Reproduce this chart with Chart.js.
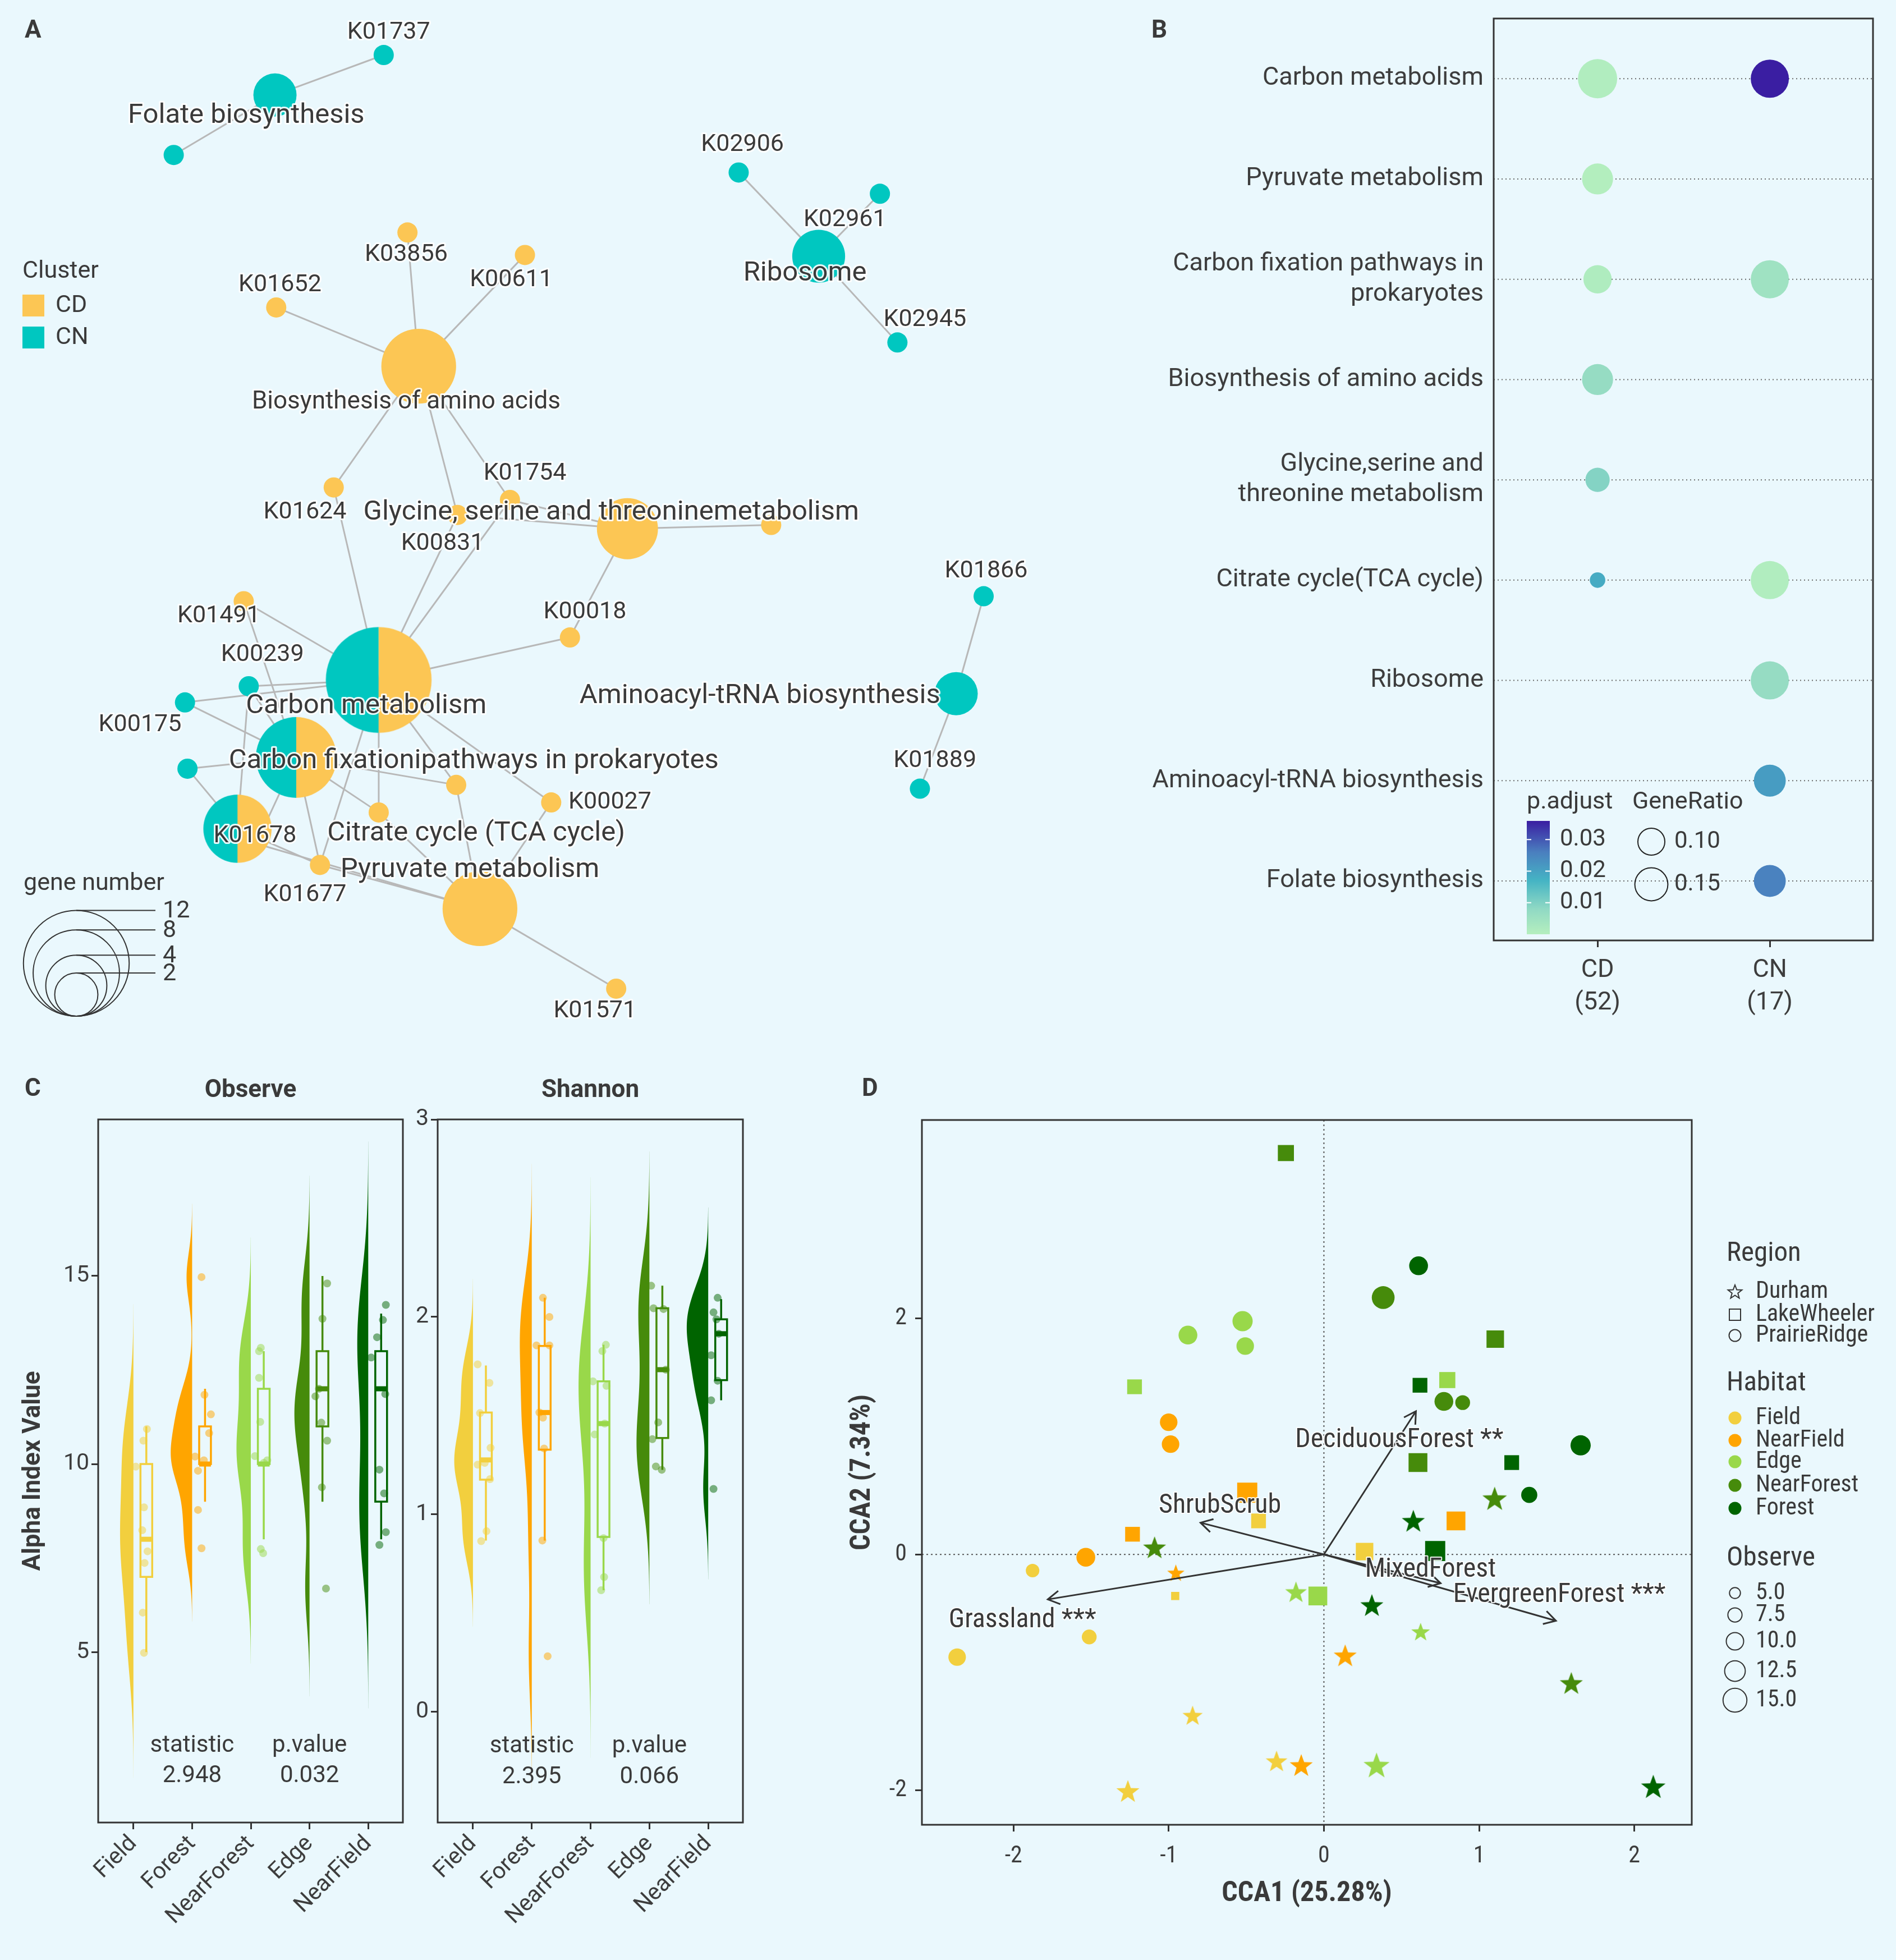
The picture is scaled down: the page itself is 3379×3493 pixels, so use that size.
<!DOCTYPE html>
<html><head><meta charset="utf-8"><title>Figure</title>
<script src="https://cdn.jsdelivr.net/npm/chart.js@4.4.1/dist/chart.umd.min.js"></script>
<style>
html,body{margin:0;padding:0;background:#eaf8fd;}
#page{position:relative;width:3379px;height:3493px;overflow:hidden;background:#eaf8fd;}
#page canvas{position:absolute;display:block;}
</style></head><body><div id="page"></div>
<script>
// ================= DATA =================
// ---- Panel A: network (layout coordinates) ----
const A_nodeId = ['K01737','u1','K02906','K02961','K02945','K03856','K00611','K01652','K01624','K01754','K00831','u2','K00018','K01491','K00239','K00175','u3','K01678','u4','K00027','u5','K01677','K01571','K01866','K01889',
  'Folate biosynthesis','Ribosome','Biosynthesis of amino acids','Glycine, serine and threoninemetabolism','Carbon metabolism','Carbon fixationipathways in prokaryotes','Citrate cycle (TCA cycle)','Pyruvate metabolism','Aminoacyl-tRNA biosynthesis'];
const A_nodeX = [3.07,1.39,5.91,7.04,7.18,3.26,4.20,2.21,2.67,4.08,3.66,6.17,4.56,1.95,1.99,1.48,1.50,2.05,3.65,4.41,3.03,2.56,4.93,7.87,7.36,
  2.20,6.55,3.35,5.02,3.03,2.37,1.90,3.84,7.65];
const A_nodeY = [0.44,1.24,1.38,1.55,2.74,1.86,2.04,2.46,3.90,4.00,4.12,4.20,5.10,4.81,5.49,5.62,6.15,6.75,6.28,6.42,6.50,6.92,7.91,4.77,6.31,
  0.76,2.05,2.93,4.23,5.44,6.06,6.63,7.27,5.55];
const A_nodeCluster = ['CN','CN','CN','CN','CN','CD','CD','CD','CD','CD','CD','CD','CD','CD','CN','CN','CN','CD','CD','CD','CD','CD','CD','CN','CN',
  'CN','CN','CD','CD','CD/CN','CD/CN','CD/CN','CD','CN'];
const A_nodeGenes = [0,0,0,0,0,0,0,0,0,0,0,0,0,0,0,0,0,0,0,0,0,0,0,0,0, 2,3,6,4,12,7,5,6,2];
const A_edgeFrom = ['Folate biosynthesis','Folate biosynthesis','Ribosome','Ribosome','Ribosome',
  'Biosynthesis of amino acids','Biosynthesis of amino acids','Biosynthesis of amino acids','Biosynthesis of amino acids','Biosynthesis of amino acids','Biosynthesis of amino acids',
  'Glycine, serine and threoninemetabolism','Glycine, serine and threoninemetabolism','Glycine, serine and threoninemetabolism','Glycine, serine and threoninemetabolism',
  'Carbon metabolism','Carbon metabolism','Carbon metabolism','Carbon metabolism','Carbon metabolism','Carbon metabolism','Carbon metabolism','Carbon metabolism','Carbon metabolism','Carbon metabolism','Carbon metabolism',
  'Carbon fixationipathways in prokaryotes','Carbon fixationipathways in prokaryotes','Carbon fixationipathways in prokaryotes','Carbon fixationipathways in prokaryotes','Carbon fixationipathways in prokaryotes','Carbon fixationipathways in prokaryotes','Carbon fixationipathways in prokaryotes','Carbon fixationipathways in prokaryotes',
  'Citrate cycle (TCA cycle)','Citrate cycle (TCA cycle)','Citrate cycle (TCA cycle)',
  'Pyruvate metabolism','Pyruvate metabolism','Pyruvate metabolism','Pyruvate metabolism','Pyruvate metabolism','Pyruvate metabolism',
  'Aminoacyl-tRNA biosynthesis','Aminoacyl-tRNA biosynthesis'];
const A_edgeTo = ['K01737','u1','K02906','K02961','K02945',
  'K03856','K00611','K01652','K01624','K00831','K01754',
  'K01754','K00831','u2','K00018',
  'K01624','K00831','K01754','K00018','K01491','K00239','K00175','K00027','u4','u5','K01677',
  'K01491','K00239','K00175','u3','u4','u5','K01677','K01678',
  'u3','K01677','K00239',
  'K01677','u5','u4','K00027','K01571','K01678',
  'K01866','K01889'];
const A_geneLegend = [12,8,4,2];

// ---- Panel B: enrichment dot plot ----
const B_pathways = ['Carbon metabolism','Pyruvate metabolism',['Carbon fixation pathways in','prokaryotes'],'Biosynthesis of amino acids',['Glycine,serine and','threonine metabolism'],'Citrate cycle(TCA cycle)','Ribosome','Aminoacyl-tRNA biosynthesis','Folate biosynthesis'];
const B_clusters = ['CD','CN'];
const B_clusterCounts = ['(52)','(17)'];
const B_geneRatioCD = [0.212,0.132,0.110,0.132,0.081,0.033,null,null,null];
const B_padjCD      = [0.0008,0.0005,0.0012,0.0068,0.0095,0.0185,null,null,null];
const B_geneRatioCN = [0.200,null,0.200,null,null,0.200,0.200,0.140,0.140];
const B_padjCN      = [0.0359,null,0.0048,null,null,0.0008,0.0068,0.0210,0.0255];
const B_padjTicks = [0.01,0.02,0.03];
const B_ratioLegend = [0.10,0.15];

// ---- Panel C: alpha diversity ----
const C_groups = ['Field','Forest','NearForest','Edge','NearField'];
const C_observeVals = [
  [10.93,10.62,9.93,8.85,8.24,7.68,7.37,6.05,4.98],
  [14.97,11.84,11.32,10.82,10.2,10.1,9.82,8.78,7.76],
  [13.09,13.0,12.29,11.12,10.21,10.1,10.03,7.74,7.63],
  [14.8,13.86,12.0,11.8,11.1,10.62,9.38,6.69],
  [14.23,13.83,13.37,12.83,11.86,9.85,9.22,8.19,7.85]];
const C_observeJitter = [
  [0.01,-0.05,-0.18,-0.04,-0.07,0.02,-0.03,-0.06,-0.04],
  [-0.06,-0.01,0.10,0.07,-0.17,-0.02,-0.12,-0.12,-0.06],
  [-0.05,-0.08,-0.08,-0.06,-0.15,0.06,0.0,-0.05,-0.01],
  [0.08,0.0,-0.06,-0.12,-0.02,0.08,-0.01,0.06],
  [0.08,0.03,-0.07,-0.17,0.07,-0.03,0.05,0.08,-0.03]];
const C_observeBox = [[5,7,8,10,11],[9,10,10,11,12],[8,10,10,12,13],[9,11,12,13,15],[8,9,12,13,14]];
const C_shannonVals = [
  [1.76,1.666,1.513,1.337,1.261,1.252,1.179,0.915,0.865],
  [2.097,2.0,1.856,1.856,1.516,1.49,1.334,0.868,0.282],
  [1.859,1.827,1.651,1.674,1.46,1.405,0.88,0.683,0.616],
  [2.158,2.044,2.04,1.733,1.466,1.381,1.243,1.226],
  [2.097,2.023,1.988,1.915,1.806,1.677,1.578,1.129]];
const C_shannonJitter = [
  [-0.14,0.06,-0.10,0.08,-0.02,-0.14,0.07,0.01,-0.08],
  [-0.03,0.08,-0.14,0.08,-0.09,-0.03,-0.01,-0.04,0.05],
  [0.04,-0.02,0.05,-0.18,0.02,-0.15,0.0,0.01,-0.04],
  [-0.19,-0.15,0.02,0.06,-0.07,-0.17,-0.11,-0.01],
  [-0.06,-0.13,-0.08,-0.04,-0.17,-0.06,-0.17,-0.13]];
const C_shannonBox = [[0.868,1.176,1.276,1.516,1.754],[0.868,1.328,1.516,1.853,2.097],[0.616,0.886,1.46,1.674,1.859],[1.226,1.387,1.733,2.044,2.158],[1.578,1.68,1.915,1.988,2.09]];
const C_observeTest = ['2.948','0.032'];
const C_shannonTest = ['2.395','0.066'];
const C_observeTicks = [5,10,15];
const C_shannonTicks = [0,1,2,3];

// ---- Panel D: CCA ----
const D_cca1 = [-0.245,-1.22,1.104,0.619,0.795,0.606,1.21,-0.494,-0.421,-1.233,0.262,0.717,0.851,-0.039,-0.958,
  0.61,0.382,-0.524,-0.876,-0.507,0.773,0.894,-1.0,-0.988,1.654,1.323,-1.534,-1.877,-1.512,-2.363,
  1.1,0.576,-1.091,-0.954,-0.18,0.309,0.623,0.137,1.594,-0.846,-0.305,-0.146,0.339,-1.263,2.122];
const D_cca2 = [3.40,1.42,1.824,1.433,1.477,0.778,0.778,0.523,0.284,0.171,0.024,0.029,0.284,-0.352,-0.352,
  2.445,2.176,1.976,1.858,1.765,1.296,1.286,1.12,0.934,0.924,0.504,-0.024,-0.137,-0.699,-0.870,
  0.474,0.284,0.059,-0.156,-0.318,-0.43,-0.655,-0.856,-1.09,-1.364,-1.751,-1.785,-1.785,-2.005,-1.966];
const D_region = ['LakeWheeler','LakeWheeler','LakeWheeler','LakeWheeler','LakeWheeler','LakeWheeler','LakeWheeler','LakeWheeler','LakeWheeler','LakeWheeler','LakeWheeler','LakeWheeler','LakeWheeler','LakeWheeler','LakeWheeler',
  'PrairieRidge','PrairieRidge','PrairieRidge','PrairieRidge','PrairieRidge','PrairieRidge','PrairieRidge','PrairieRidge','PrairieRidge','PrairieRidge','PrairieRidge','PrairieRidge','PrairieRidge','PrairieRidge','PrairieRidge',
  'Durham','Durham','Durham','Durham','Durham','Durham','Durham','Durham','Durham','Durham','Durham','Durham','Durham','Durham','Durham'];
const D_habitat = ['NearForest','Edge','NearForest','Forest','Edge','NearForest','Forest','NearField','Field','NearField','Field','Forest','NearField','Edge','Field',
  'Forest','NearForest','Edge','Edge','Edge','NearForest','NearForest','NearField','NearField','Forest','Forest','NearField','Field','Field','Field',
  'NearForest','Forest','NearForest','NearField','Edge','Forest','Edge','NearField','NearForest','Field','Field','NearField','Edge','Field','Forest'];
const D_observe = [11.2,10.0,12.5,10.0,11.2,13.7,10.0,14.9,10.0,10.0,12.5,14.9,13.7,13.7,4.0,
  11.1,14.2,12.2,11.1,10.1,11.1,8.0,10.1,10.1,12.2,9.0,11.1,7.0,8.0,10.1,
  11.3,10.4,10.4,7.0,9.6,10.4,7.8,10.4,10.4,8.7,9.6,10.4,12.2,10.4,11.3];
const D_envNames = ['Grassland ***','ShrubScrub','DeciduousForest **','MixedForest','EvergreenForest ***'];
const D_envCCA1 = [-1.779,-0.795,0.593,0.752,1.495];
const D_envCCA2 = [-0.381,0.269,1.213,-0.244,-0.562];
const D_regions = ['Durham','LakeWheeler','PrairieRidge'];
const D_habitats = ['Field','NearField','Edge','NearForest','Forest'];
const D_observeLegend = [5.0,7.5,10.0,12.5,15.0];

// ================= STYLES =================
const BG = '#eaf8fd';
const TXT = '#3d3d3d';
const RFONT = "Roboto, 'Noto Sans', sans-serif";
const DFONT = "'Roboto Condensed', 'Liberation Sans Narrow', Roboto, sans-serif";
Chart.defaults.font.family = RFONT;
Chart.defaults.color = TXT;
const A_COL = {CD:'#fcc654', CN:'#00c7c0'};
const HAB_COL = {Field:'#f2cf3e', NearField:'#ffa500', Edge:'#99d84a', NearForest:'#468b0b', Forest:'#006400'};
const C_COL = ['#f2cf3e','#ffa500','#99d84a','#468b0b','#006400'];
const B_RAMP_V = [0, 0.008, 0.017, 0.026, 0.0359];
const B_RAMP_C = ['#b5efbe','#90d9c4','#45b4c4','#4a7fbf','#3a1ea2'];
// label offsets for network (layout units)
const A_labelOffset = {
 'Folate biosynthesis':[-0.23,0.17],'K01737':[0.04,-0.18],'Ribosome':[-0.11,0.14],'K02906':[0.03,-0.22],'K02961':[-0.28,0.21],'K02945':[0.22,-0.18],
 'Biosynthesis of amino acids':[-0.10,0.29],'K03856':[-0.01,0.18],'K00611':[-0.11,0.20],'K01652':[0.03,-0.18],'K01624':[-0.23,0.20],'K01754':[0.12,-0.21],
 'K00831':[-0.12,0.23],'Glycine, serine and threoninemetabolism':[-0.13,-0.13],'K00018':[0.12,-0.20],'K01491':[-0.20,0.12],'K00239':[0.11,-0.25],
 'K00175':[-0.36,0.18],'Carbon metabolism':[-0.10,0.21],'Carbon fixationipathways in prokaryotes':[1.42,0.03],'Citrate cycle (TCA cycle)':[1.91,0.04],
 'K01678':[-0.01,-0.06],'K00027':[0.47,0.0],'K01677':[-0.12,0.24],'Pyruvate metabolism':[-0.08,-0.31],'K01571':[-0.17,0.18],
 'Aminoacyl-tRNA biosynthesis':[-1.57,0.02],'K01866':[0.02,-0.20],'K01889':[0.12,-0.22]};
const A_labelSize = {'Biosynthesis of amino acids':44};
const D_labelPos = [[-1.942,-0.562],[-0.670,0.411],[0.486,0.968],[0.687,-0.132],[1.517,-0.347]];

// ================= HELPERS =================
function mkCanvas(id,left,top,w,h){
  const c=document.createElement('canvas'); c.id=id; c.width=w; c.height=h;
  c.style.left=left+'px'; c.style.top=top+'px'; c.style.width=w+'px'; c.style.height=h+'px';
  document.getElementById('page').appendChild(c); return c;
}
function baseOpts(extra){
  const o = Object.assign({responsive:false,maintainAspectRatio:false,animation:false,devicePixelRatio:1,events:[],
    plugins:{legend:{display:false},tooltip:{enabled:false}}}, extra);
  o.layout = Object.assign({autoPadding:false}, o.layout||{});
  return o;
}
function zp(s){ s.paddingLeft=0; s.paddingRight=0; s.paddingTop=0; s.paddingBottom=0; }
function setTicks(list){ return s=>{ s.ticks = list.map(v=>({value:v})); }; }
function hex2rgb(h){ h=h.replace('#',''); return [parseInt(h.slice(0,2),16),parseInt(h.slice(2,4),16),parseInt(h.slice(4,6),16)]; }
function rgba(h,a){ const c=hex2rgb(h); return `rgba(${c[0]},${c[1]},${c[2]},${a})`; }
function ramp(v){
  if(v<=B_RAMP_V[0]) return B_RAMP_C[0];
  for(let i=1;i<B_RAMP_V.length;i++){
    if(v<=B_RAMP_V[i]){ const t=(v-B_RAMP_V[i-1])/(B_RAMP_V[i]-B_RAMP_V[i-1]); const a=hex2rgb(B_RAMP_C[i-1]), b=hex2rgb(B_RAMP_C[i]);
      return `rgb(${Math.round(a[0]+t*(b[0]-a[0]))},${Math.round(a[1]+t*(b[1]-a[1]))},${Math.round(a[2]+t*(b[2]-a[2]))})`; }
  }
  return B_RAMP_C[B_RAMP_C.length-1];
}
function letter(ctx,t,x,y){ ctx.save(); ctx.font='bold 44px '+RFONT; ctx.fillStyle='#3a3a3a'; ctx.textAlign='left'; ctx.textBaseline='middle'; ctx.fillText(t,x,y); ctx.restore(); }
function haloText(ctx,t,x,y,w){ ctx.save(); ctx.lineJoin='round'; ctx.strokeStyle='rgba(255,255,255,0.9)'; ctx.lineWidth=w; ctx.strokeText(t,x,y); ctx.restore(); ctx.fillText(t,x,y); }
function starPath(g,cx,cy,R,ratio){
  g.beginPath();
  for(let k=0;k<10;k++){ const a=-Math.PI/2+k*Math.PI/5; const rr=(k%2)?R*ratio:R; const px=cx+rr*Math.cos(a), py=cy+rr*Math.sin(a); if(k===0) g.moveTo(px,py); else g.lineTo(px,py); }
  g.closePath();
}
function starCanvas(R,color){
  const s=Math.ceil(2*R+4); const c=document.createElement('canvas'); c.width=s; c.height=s;
  const g=c.getContext('2d'); g.fillStyle=color; starPath(g,s/2,s/2+R*0.08,R,0.41); g.fill(); return c;
}

// ================= PANEL A =================
const A_UNIT = 222.75, A_W = 1950, A_H = 1880;
const A_KO_R = 18;
const geneRadius = n => 27.2*Math.sqrt(n);
function halfDisc(r){
  const s=Math.ceil(2*r+2); const c=document.createElement('canvas'); c.width=s; c.height=s;
  const g=c.getContext('2d'); const m=s/2;
  g.fillStyle=A_COL.CN; g.beginPath(); g.moveTo(m,m); g.arc(m,m,r,Math.PI/2,Math.PI*1.5); g.closePath(); g.fill();
  g.fillStyle=A_COL.CD; g.beginPath(); g.moveTo(m,m); g.arc(m,m,r,-Math.PI/2,Math.PI/2); g.closePath(); g.fill();
  return c;
}
const A_radius = A_nodeGenes.map(n=> n>0 ? geneRadius(n) : A_KO_R);
const panelAPlugin = {
  id:'panelA',
  beforeDatasetsDraw(chart){
    const {ctx,scales:{x,y}}=chart;
    ctx.save(); ctx.strokeStyle='#b8b8b8'; ctx.lineWidth=3;
    A_edgeFrom.forEach((f,k)=>{
      const i=A_nodeId.indexOf(f), j=A_nodeId.indexOf(A_edgeTo[k]);
      ctx.beginPath(); ctx.moveTo(x.getPixelForValue(A_nodeX[i]),y.getPixelForValue(A_nodeY[i]));
      ctx.lineTo(x.getPixelForValue(A_nodeX[j]),y.getPixelForValue(A_nodeY[j])); ctx.stroke();
    });
    ctx.restore();
  },
  afterDatasetsDraw(chart){
    const {ctx,scales:{x,y}}=chart;
    ctx.save(); ctx.fillStyle='#3a3a3a'; ctx.textAlign='center'; ctx.textBaseline='middle';
    A_nodeId.forEach((id,i)=>{
      if(id[0]==='u') return;
      const off=A_labelOffset[id]||[0,-0.2];
      const size=A_labelSize[id]||(A_nodeGenes[i]>0?49:43);
      ctx.font=size+'px '+RFONT;
      haloText(ctx,id, x.getPixelForValue(A_nodeX[i]+off[0]), y.getPixelForValue(A_nodeY[i]+off[1]),6);
    });
    ctx.restore();
  },
  afterDraw(chart){
    const ctx=chart.ctx; ctx.save();
    letter(ctx,'A',44,56);
    ctx.fillStyle='#3a3a3a'; ctx.font='43px '+RFONT; ctx.textAlign='left'; ctx.textBaseline='middle';
    ctx.fillText('Cluster',40,484);
    ctx.fillStyle=A_COL.CD; ctx.fillRect(40,525,39,39);
    ctx.fillStyle=A_COL.CN; ctx.fillRect(40,582,39,39);
    ctx.fillStyle='#3a3a3a'; ctx.fillText('CD',99,545); ctx.fillText('CN',99,602);
    ctx.fillText('gene number',42,1575);
    const cx=136, bottom=1811;
    ctx.strokeStyle='#333'; ctx.lineWidth=2;
    A_geneLegend.forEach(n=>{
      const r=geneRadius(n);
      ctx.beginPath(); ctx.arc(cx,bottom-r,r,0,Math.PI*2); ctx.stroke();
      ctx.beginPath(); ctx.moveTo(cx,bottom-2*r); ctx.lineTo(277,bottom-2*r); ctx.stroke();
      ctx.fillText(String(n),290,bottom-2*r+2);
    });
    ctx.restore();
  }
};
new Chart(mkCanvas('panelA',0,0,A_W,A_H),{
  type:'bubble',
  data:{datasets:[{
    data:A_nodeId.map((id,i)=>({x:A_nodeX[i],y:A_nodeY[i],r:A_radius[i]})),
    backgroundColor:A_nodeCluster.map(c=> c==='CD/CN' ? '#888' : A_COL[c]),
    pointStyle:A_nodeCluster.map((c,i)=> c==='CD/CN' ? halfDisc(A_radius[i]) : 'circle'),
    borderWidth:0, clip:false
  }]},
  options:baseOpts({layout:{padding:0},
    scales:{x:{type:'linear',display:false,min:0,max:A_W/A_UNIT},y:{type:'linear',display:false,min:0,max:A_H/A_UNIT,reverse:true}}}),
  plugins:[panelAPlugin]
});

// ================= PANEL B =================
const B_sizeK = 76;
const B_r = v => B_sizeK*Math.sqrt(v);
const B_pts=[], B_cols=[];
B_pathways.forEach((p,i)=>{
  if(B_geneRatioCD[i]!=null){ B_pts.push({x:0,y:i,r:B_r(B_geneRatioCD[i])}); B_cols.push(ramp(B_padjCD[i])); }
  if(B_geneRatioCN[i]!=null){ B_pts.push({x:1,y:i,r:B_r(B_geneRatioCN[i])}); B_cols.push(ramp(B_padjCN[i])); }
});
const panelBPlugin = {
  id:'panelB',
  beforeDatasetsDraw(chart){
    const {ctx,chartArea:a,scales:{y}}=chart;
    ctx.save(); ctx.strokeStyle='#6a6a6a'; ctx.lineWidth=2; ctx.setLineDash([2,5]);
    B_pathways.forEach((p,i)=>{ const py=y.getPixelForValue(i); ctx.beginPath(); ctx.moveTo(a.left,py); ctx.lineTo(a.right,py); ctx.stroke(); });
    ctx.restore();
  },
  afterDraw(chart){
    const {ctx,chartArea:a}=chart; ctx.save();
    ctx.strokeStyle='#333'; ctx.lineWidth=3; ctx.strokeRect(a.left,a.top,a.right-a.left,a.bottom-a.top);
    letter(ctx,'B',102,56);
    const bx=771, bw=41, btop=1463, bbot=1665, vmax=B_RAMP_V[B_RAMP_V.length-1];
    const gr=ctx.createLinearGradient(0,bbot,0,btop);
    B_RAMP_V.forEach((v,i)=>gr.addColorStop(v/vmax,B_RAMP_C[i]));
    ctx.fillStyle=gr; ctx.fillRect(bx,btop,bw,bbot-btop);
    ctx.fillStyle='#3a3a3a'; ctx.font='43px '+RFONT; ctx.textAlign='left'; ctx.textBaseline='middle';
    ctx.fillText('p.adjust',771,1430); ctx.fillText('GeneRatio',959,1430);
    ctx.font='42px '+RFONT;
    B_padjTicks.forEach(v=>{
      const py=bbot-(v/vmax)*(bbot-btop);
      ctx.strokeStyle='#ffffff'; ctx.lineWidth=2;
      ctx.beginPath(); ctx.moveTo(bx,py); ctx.lineTo(bx+8,py); ctx.moveTo(bx+bw-8,py); ctx.lineTo(bx+bw,py); ctx.stroke();
      ctx.fillText(v.toFixed(2),830,py);
    });
    const ly=[1500,1576];
    B_ratioLegend.forEach((v,k)=>{
      ctx.strokeStyle='#222'; ctx.lineWidth=2;
      ctx.beginPath(); ctx.arc(993,ly[k],B_r(v),0,Math.PI*2); ctx.stroke();
      ctx.fillText(v.toFixed(2),1034,ly[k]);
    });
    ctx.restore();
  }
};
new Chart(mkCanvas('panelB',1950,0,1429,1880),{
  type:'bubble',
  data:{datasets:[{data:B_pts,backgroundColor:B_cols,borderWidth:0}]},
  options:baseOpts({layout:{padding:{left:0,top:33,right:41,bottom:0}},
    scales:{
      x:{type:'linear',min:-0.603,max:1.599,afterBuildTicks:setTicks([0,1]),afterFit:s=>{s.height=204;zp(s);},
         ticks:{callback:v=>[B_clusters[v],B_clusterCounts[v]],font:{size:45,lineHeight:1.28},color:TXT,padding:13,autoSkip:false,maxRotation:0,minRotation:0},
         grid:{display:true,drawOnChartArea:false,drawTicks:true,tickLength:12,tickColor:'#333',tickWidth:3},border:{display:false}},
      y:{type:'linear',min:-0.6,max:8.593,reverse:true,afterBuildTicks:setTicks([0,1,2,3,4,5,6,7,8]),afterFit:s=>{s.width=712;zp(s);},
         ticks:{callback:v=>B_pathways[v],font:{size:45,lineHeight:1.2},color:TXT,padding:18,autoSkip:false},
         grid:{display:true,drawOnChartArea:false,drawTicks:false},border:{display:false}}
    }}),
  plugins:[panelBPlugin]
});

// ================= PANEL C =================
function kde(vals){
  const m=vals.length, mean=vals.reduce((a,b)=>a+b,0)/m;
  const sd=Math.sqrt(vals.reduce((a,b)=>a+(b-mean)*(b-mean),0)/(m-1));
  const s=[...vals].sort((a,b)=>a-b);
  const q=p=>{const h=(m-1)*p, lo=Math.floor(h), hi=Math.min(lo+1,m-1); return s[lo]+(h-lo)*(s[hi]-s[lo]);};
  const iqr=q(0.75)-q(0.25);
  let lo=Math.min(sd,iqr/1.34); if(!(lo>0)) lo=sd||1;
  const bw=0.9*lo*Math.pow(m,-0.2);
  const y0=s[0]-3*bw, y1=s[m-1]+3*bw, N=240, out=[];
  for(let i=0;i<=N;i++){ const yy=y0+(y1-y0)*i/N; let d=0; for(const v of vals){const z=(yy-v)/bw; d+=Math.exp(-0.5*z*z);} out.push({y:yy,d:d/(m*bw*Math.sqrt(2*Math.PI))}); }
  return out;
}
function makeAlphaChart(cfg){
  const BOX_OFF=0.22, BOX_HW=0.1, VMAX=0.365;
  const dens=cfg.vals.map(kde);
  const maxD=Math.max(...dens.map(c=>Math.max(...c.map(p=>p.d))));
  const plugin={
    id:'alpha'+cfg.id,
    beforeDatasetsDraw(chart){
      const {ctx,scales:{x,y}}=chart; ctx.save();
      dens.forEach((curve,i)=>{
        ctx.beginPath(); ctx.moveTo(x.getPixelForValue(i),y.getPixelForValue(curve[0].y));
        curve.forEach(p=>ctx.lineTo(x.getPixelForValue(i-p.d/maxD*VMAX),y.getPixelForValue(p.y)));
        ctx.lineTo(x.getPixelForValue(i),y.getPixelForValue(curve[curve.length-1].y)); ctx.closePath();
        ctx.fillStyle=C_COL[i]; ctx.fill();
      });
      cfg.box.forEach((b,i)=>{
        const xc=x.getPixelForValue(i+BOX_OFF), xl=x.getPixelForValue(i+BOX_OFF-BOX_HW), xr=x.getPixelForValue(i+BOX_OFF+BOX_HW);
        const [mn,q1,md,q3,mx]=b.map(v=>y.getPixelForValue(v));
        ctx.strokeStyle=C_COL[i]; ctx.lineWidth=3.5;
        ctx.beginPath(); ctx.moveTo(xc,mn); ctx.lineTo(xc,q1); ctx.moveTo(xc,q3); ctx.lineTo(xc,mx); ctx.stroke();
        ctx.strokeRect(xl,q3,xr-xl,q1-q3);
        ctx.lineWidth=9; ctx.beginPath(); ctx.moveTo(xl,md); ctx.lineTo(xr,md); ctx.stroke();
      });
      ctx.restore();
    },
    afterDraw(chart){
      const {ctx,chartArea:a,scales:{x,y}}=chart; ctx.save();
      ctx.strokeStyle='#333'; ctx.lineWidth=3; ctx.strokeRect(a.left,a.top,a.right-a.left,a.bottom-a.top);
      ctx.fillStyle='#3a3a3a'; ctx.textAlign='center'; ctx.textBaseline='middle';
      ctx.font='bold 44px '+RFONT; ctx.fillText(cfg.title,(a.left+a.right)/2,44);
      ctx.font='42px '+RFONT;
      ctx.fillText('statistic',x.getPixelForValue(1),y.getPixelForValue(cfg.statY[0]));
      ctx.fillText(cfg.test[0],x.getPixelForValue(1),y.getPixelForValue(cfg.statY[1]));
      ctx.fillText('p.value',x.getPixelForValue(3),y.getPixelForValue(cfg.statY[0]));
      ctx.fillText(cfg.test[1],x.getPixelForValue(3),y.getPixelForValue(cfg.statY[1]));
      if(cfg.letter) letter(ctx,cfg.letter,44,42);
      ctx.restore();
    }
  };
  const datasets=cfg.vals.map((vals,i)=>({
    data:vals.map((v,k)=>({x:i+BOX_OFF+cfg.jit[i][k],y:v})),
    pointRadius:7,pointBackgroundColor:rgba(C_COL[i],0.5),pointBorderWidth:0,showLine:false
  }));
  const yScale={type:'linear',min:cfg.yMin,max:cfg.yMax,afterBuildTicks:setTicks(cfg.yTicks),afterFit:s=>{s.width=cfg.plotLeft;zp(s);},
    ticks:{font:{size:41},color:TXT,padding:4,autoSkip:false,callback:v=>String(v)},
    grid:{display:true,drawOnChartArea:false,drawTicks:true,tickLength:12,tickColor:'#333',tickWidth:3},border:{display:false}};
  if(cfg.yTitle) yScale.title={display:true,text:cfg.yTitle,font:{size:44,weight:'bold'},color:'#3a3a3a',padding:{top:34,bottom:0}};
  new Chart(mkCanvas('panelC'+cfg.id,cfg.left,1900,cfg.width,1593),{
    type:'scatter',
    data:{datasets},
    options:baseOpts({layout:{padding:{left:0,top:95,right:cfg.padRight,bottom:0}},
      scales:{
        x:{type:'linear',min:-0.6,max:4.59,afterBuildTicks:setTicks([0,1,2,3,4]),afterFit:s=>{s.height=245;zp(s);},
           ticks:{callback:v=>C_groups[v],font:{size:41},color:TXT,padding:2,autoSkip:false,maxRotation:45,minRotation:45},
           grid:{display:true,drawOnChartArea:false,drawTicks:true,tickLength:12,tickColor:'#333',tickWidth:3},border:{display:false}},
        y:yScale
      }}),
    plugins:[plugin]
  });
}
makeAlphaChart({id:'1',left:0,width:740,plotLeft:175,padRight:22,vals:C_observeVals,jit:C_observeJitter,box:C_observeBox,
  yMin:0.47,yMax:19.16,yTicks:C_observeTicks,title:'Observe',test:C_observeTest,statY:[2.5,1.7],yTitle:'Alpha Index Value',letter:'C'});
makeAlphaChart({id:'2',left:720,width:650,plotLeft:60,padRight:46,vals:C_shannonVals,jit:C_shannonJitter,box:C_shannonBox,
  yMin:-0.56,yMax:3.0,yTicks:C_shannonTicks,title:'Shannon',test:C_shannonTest,statY:[-0.175,-0.33]});

// ================= PANEL D =================
const D_size = o => 4 + 1.15*o;
const D_pointStyle = D_region.map((rg,i)=> rg==='Durham' ? starCanvas(1.35*D_size(D_observe[i]),HAB_COL[D_habitat[i]]) : (rg==='LakeWheeler' ? 'rect' : 'circle'));
const D_pointRadius = D_region.map((rg,i)=> rg==='LakeWheeler' ? 1.2*D_size(D_observe[i]) : D_size(D_observe[i]));
const panelDPlugin = {
  id:'panelD',
  beforeDatasetsDraw(chart){
    const {ctx,chartArea:a,scales:{x,y}}=chart; ctx.save();
    ctx.strokeStyle='#555'; ctx.lineWidth=2; ctx.setLineDash([3,5]);
    const x0=x.getPixelForValue(0), y0=y.getPixelForValue(0);
    ctx.beginPath(); ctx.moveTo(x0,a.top); ctx.lineTo(x0,a.bottom); ctx.moveTo(a.left,y0); ctx.lineTo(a.right,y0); ctx.stroke();
    ctx.restore();
  },
  afterDatasetsDraw(chart){
    const {ctx,scales:{x,y}}=chart; ctx.save();
    const x0=x.getPixelForValue(0), y0=y.getPixelForValue(0);
    ctx.strokeStyle='#333'; ctx.lineWidth=3;
    D_envNames.forEach((n,i)=>{
      const x1=x.getPixelForValue(D_envCCA1[i]), y1=y.getPixelForValue(D_envCCA2[i]);
      const th=Math.atan2(y1-y0,x1-x0), L=24;
      ctx.beginPath(); ctx.moveTo(x0,y0); ctx.lineTo(x1,y1);
      ctx.moveTo(x1-L*Math.cos(th-Math.PI/6),y1-L*Math.sin(th-Math.PI/6)); ctx.lineTo(x1,y1);
      ctx.lineTo(x1-L*Math.cos(th+Math.PI/6),y1-L*Math.sin(th+Math.PI/6)); ctx.stroke();
    });
    ctx.fillStyle='#3a3a3a'; ctx.font='48px '+DFONT; ctx.textAlign='center'; ctx.textBaseline='middle';
    D_envNames.forEach((n,i)=>haloText(ctx,n,x.getPixelForValue(D_labelPos[i][0]),y.getPixelForValue(D_labelPos[i][1]),4));
    ctx.restore();
  },
  afterDraw(chart){
    const {ctx,chartArea:a}=chart; ctx.save();
    ctx.strokeStyle='#333'; ctx.lineWidth=3; ctx.strokeRect(a.left,a.top,a.right-a.left,a.bottom-a.top);
    letter(ctx,'D',36,42);
    const tx=1577, sx=1592, lx=1629;
    ctx.fillStyle='#3a3a3a'; ctx.textAlign='left'; ctx.textBaseline='middle';
    ctx.font='49px '+DFONT;
    ctx.fillText('Region',tx,335); ctx.fillText('Habitat',tx,566); ctx.fillText('Observe',tx,878);
    ctx.font='42px '+DFONT;
    const ry=[402,443,480];
    ctx.strokeStyle='#333'; ctx.lineWidth=2;
    D_regions.forEach((r,k)=>{
      if(r==='Durham'){ starPath(ctx,sx,ry[k]+1,13,0.42); ctx.stroke(); }
      else if(r==='LakeWheeler'){ ctx.strokeRect(sx-10,ry[k]-10,20,20); }
      else { ctx.beginPath(); ctx.arc(sx,ry[k],10.5,0,Math.PI*2); ctx.stroke(); }
      ctx.fillText(r,lx,ry[k]);
    });
    const hy=[627,667,705,747,788];
    D_habitats.forEach((h,k)=>{ ctx.fillStyle=HAB_COL[h]; ctx.beginPath(); ctx.arc(sx,hy[k],11.5,0,Math.PI*2); ctx.fill(); ctx.fillStyle='#3a3a3a'; ctx.fillText(h,lx,hy[k]); });
    const oy=[939,978,1025,1078,1130];
    D_observeLegend.forEach((o,k)=>{ ctx.beginPath(); ctx.arc(sx,oy[k],D_size(o),0,Math.PI*2); ctx.stroke(); ctx.fillText(o.toFixed(1),lx,oy[k]); });
    ctx.restore();
  }
};
new Chart(mkCanvas('panelD',1500,1900,1879,1593),{
  type:'scatter',
  data:{datasets:[{
    data:D_cca1.map((v,i)=>({x:v,y:D_cca2[i]})),
    pointStyle:D_pointStyle, pointRadius:D_pointRadius,
    pointBackgroundColor:D_habitat.map(h=>HAB_COL[h]), pointBorderWidth:0, showLine:false
  }]},
  options:baseOpts({layout:{padding:{left:0,top:96,right:364,bottom:0}},
    scales:{
      x:{type:'linear',min:-2.59,max:2.37,afterBuildTicks:setTicks([-2,-1,0,1,2]),afterFit:s=>{s.height=241;zp(s);},
         ticks:{font:{family:DFONT,size:42},color:TXT,padding:19,autoSkip:false,maxRotation:0,callback:v=>String(v)},
         grid:{display:true,drawOnChartArea:false,drawTicks:true,tickLength:12,tickColor:'#333',tickWidth:3},border:{display:false},
         title:{display:true,text:'CCA1 (25.28%)',font:{family:DFONT,size:50,weight:'bold'},color:'#3a3a3a',padding:{top:0,bottom:88}}},
      y:{type:'linear',min:-2.29,max:3.68,afterBuildTicks:setTicks([-2,0,2]),afterFit:s=>{s.width=143;zp(s);},
         ticks:{font:{family:DFONT,size:42},color:TXT,padding:15,autoSkip:false,callback:v=>String(v)},
         grid:{display:true,drawOnChartArea:false,drawTicks:true,tickLength:12,tickColor:'#333',tickWidth:3},border:{display:false},
         title:{display:true,text:'CCA2 (7.34%)',font:{family:DFONT,size:50,weight:'bold'},color:'#3a3a3a',padding:{top:7,bottom:0}}}
    }}),
  plugins:[panelDPlugin]
});
</script></body></html>
